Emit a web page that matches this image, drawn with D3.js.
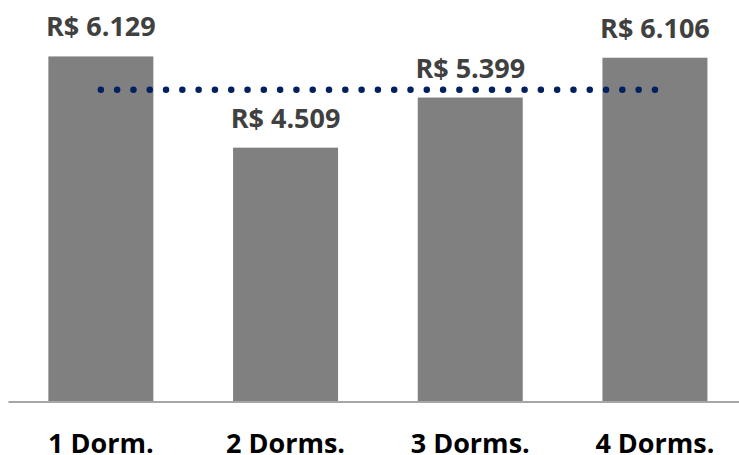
<!DOCTYPE html>
<html>
<head>
<meta charset="utf-8">
<script src="https://cdn.jsdelivr.net/npm/d3@7"></script>
<style>
  body { margin: 0; background: #fff; }
  text { font-family: "Open Sans", sans-serif; font-weight: bold; }
</style>
</head>
<body>
<div id="chart"></div>
<script>
var width = 739;
var height = 455;

// data
var categories = ["1 Dorm.", "2 Dorms.", "3 Dorms.", "4 Dorms."];
var prices = [6129, 4509, 5399, 6106];
var averageLine = [5536, 5536, 5536, 5536];

var svg = d3.select("#chart")
            .append("svg")
            .attr("width", width)
            .attr("height", height);

var x = d3.scaleBand()
    .domain(categories)
    .range([8.5, 747.3])
    .paddingInner(0.4315)
    .paddingOuter(0.2158);

var y = d3.scaleLinear()
    .domain([0, 7000])
    .range([401.5, 7.4]);

var br = d3.formatLocale({decimal: ",", thousands: ".", grouping: [3], currency: ["R$ ", ""]});
var money = br.format("$,.0f");

var rows = categories.map(function(c, i){
  return {cat: c, value: prices[i], avg: averageLine[i]};
});

// bars
svg.append("g").selectAll("rect")
  .data(rows)
  .enter()
  .append("rect")
  .attr("x", function(d){ return x(d.cat); })
  .attr("y", function(d){ return y(d.value); })
  .attr("width", x.bandwidth())
  .attr("height", function(d){ return y(0) - y(d.value); })
  .attr("fill", "#808080");

// baseline
svg.append("line")
  .attr("x1", x.range()[0])
  .attr("x2", x.range()[1])
  .attr("y1", 402)
  .attr("y2", 402)
  .attr("stroke", "#a6a6a6")
  .attr("stroke-width", 2);

// average dotted line
var line = d3.line()
  .x(function(d){ return x(d.cat) + x.bandwidth() / 2; })
  .y(function(d){ return y(d.avg); });

var avgPath = svg.append("path")
  .datum(rows)
  .attr("d", line)
  .attr("fill", "none")
  .attr("stroke", "#002060")
  .attr("stroke-width", 6.5)
  .attr("stroke-linecap", "round");

var len = avgPath.node().getTotalLength();
avgPath.attr("stroke-dasharray", "0," + (len / 34));

// value labels
svg.append("g").selectAll("text")
  .data(rows)
  .enter()
  .append("text")
  .attr("x", function(d){ return x(d.cat) + x.bandwidth() / 2; })
  .attr("y", function(d){ return y(d.value) - 20; })
  .attr("text-anchor", "middle")
  .attr("font-size", "27px")
  .attr("fill", "#404040")
  .text(function(d){ return money(d.value); });

// category labels
svg.append("g").selectAll("text")
  .data(rows)
  .enter()
  .append("text")
  .attr("x", function(d){ return x(d.cat) + x.bandwidth() / 2; })
  .attr("y", 452.5)
  .attr("text-anchor", "middle")
  .attr("font-size", "27px")
  .attr("fill", "#000")
  .text(function(d){ return d.cat; });
</script>
</body>
</html>
